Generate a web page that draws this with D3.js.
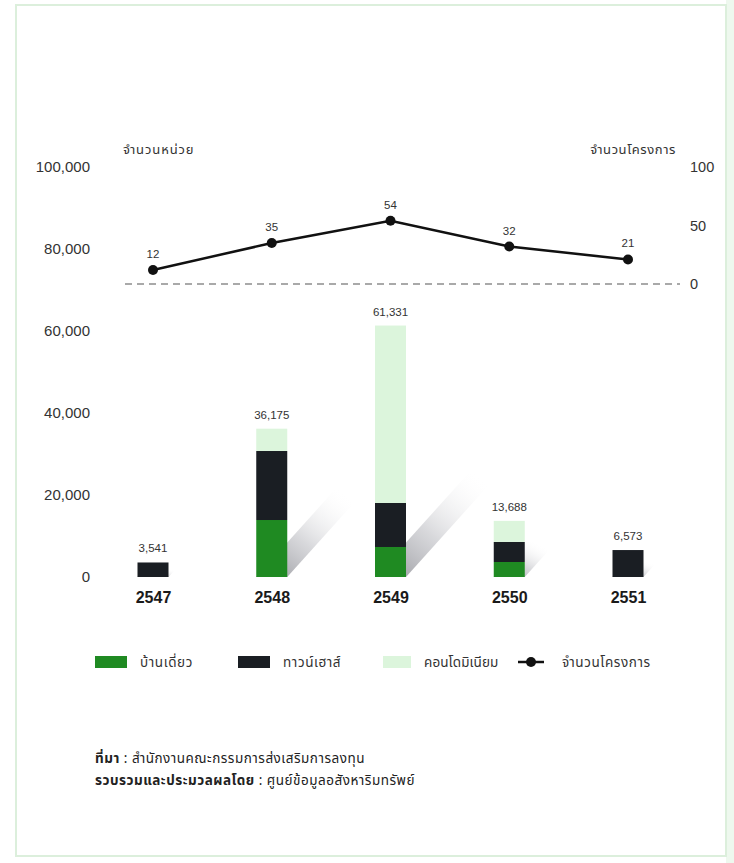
<!DOCTYPE html>
<html><head><meta charset="utf-8">
<script src="https://cdn.jsdelivr.net/npm/d3@7"></script>
<style>
body{margin:0;background:#fff;}
svg text{font-family:"Liberation Sans", Arial, "Noto Sans Thai", sans-serif;}
.thai{font-family:"Noto Sans Thai","Noto Sans Thai UI","Noto Sans","DejaVu Sans",sans-serif;}
</style></head>
<body>
<svg id="c" width="734" height="863"></svg>
<script>
const years = ["2547","2548","2549","2550","2551"];
const detached = [0, 13900, 7320, 3660, 0];
const townhouse = [3541, 16830, 10730, 4880, 6573];
const condo = [0, 5445, 43281, 5148, 0];
const totals = [3541, 36175, 61331, 13688, 6573];
const projects = [12, 35, 54, 32, 21];
const leftTicks = [0, 20000, 40000, 60000, 80000, 100000];
const rightTicks = [0, 50, 100];
const seriesNames = ["บ้านเดี่ยว", "ทาวน์เฮาส์", "คอนโดมิเนียม"];
const lineName = "จำนวนโครงการ";
const leftTitle = "จำนวนหน่วย";
const rightTitle = "จำนวนโครงการ";
const source1Bold = "ที่มา";
const source1 = " : สำนักงานคณะกรรมการส่งเสริมการลงทุน";
const source2Bold = "รวบรวมและประมวลผลโดย";
const source2 = " : ศูนย์ข้อมูลอสังหาริมทรัพย์";

const colors = ["#1f8a22", "#1a1e23", "#dcf5dc"];

const svg = d3.select("#c");
// frame
svg.append("rect").attr("x",726).attr("y",0).attr("width",8).attr("height",863).attr("fill","#eef8ee");
svg.append("rect").attr("x",16).attr("y",5).attr("width",710).attr("height",851)
  .attr("fill","none").attr("stroke","#dcefdc").attr("stroke-width",2);

const x = d3.scalePoint().domain(years).range([153, 628]);
const y = d3.scaleLinear().domain([0, 100000]).range([577, 167]);
const yR = d3.scaleLinear().domain([0, 100]).range([284, 167]);
const bw = 31;

const defs = svg.append("defs");
const g = defs.append("linearGradient").attr("id","sh").attr("x1",0).attr("y1",1).attr("x2",1).attr("y2",0);
g.append("stop").attr("offset","0%").attr("stop-color","#74757c").attr("stop-opacity",0.8);
g.append("stop").attr("offset","40%").attr("stop-color","#a8a9b0").attr("stop-opacity",0.45);
g.append("stop").attr("offset","85%").attr("stop-color","#ffffff").attr("stop-opacity",0);

// shadows
years.forEach((yr,i)=>{
  const x0 = x(yr)-bw/2, x1 = x(yr)+bw/2, y0 = y(0);
  const h = y(0)-y(totals[i]);
  const dy = Math.min(h*0.62, 112), dx = dy*0.9;
  svg.append("path")
    .attr("d", `M${x0},${y0}L${x1},${y0}L${x1+dx},${y0-dy}L${x0+dx},${y0-dy}Z`)
    .attr("fill","url(#sh)");
});

// stacked bars
const rows = years.map((yr,i)=>({year:yr, d:detached[i], t:townhouse[i], c:condo[i]}));
const stack = d3.stack().keys(["d","t","c"])(rows);
svg.append("g").selectAll("g").data(stack).join("g")
  .attr("fill",(s,i)=>colors[i])
  .selectAll("rect").data(s=>s).join("rect")
  .attr("x",d=>x(d.data.year)-bw/2)
  .attr("width",bw)
  .attr("y",d=>y(d[1]))
  .attr("height",d=>y(d[0])-y(d[1]));

// totals labels
svg.append("g").selectAll("text").data(years).join("text")
  .attr("x",d=>x(d)).attr("y",(d,i)=>y(totals[i])-10)
  .attr("text-anchor","middle").attr("font-size",11.5).attr("fill","#333")
  .text((d,i)=>d3.format(",")(totals[i]));

// left axis
const la = svg.append("g").attr("transform","translate(90,0)")
  .call(d3.axisLeft(y).tickValues(leftTicks).tickSize(0).tickPadding(0).tickFormat(d3.format(",")));
la.select(".domain").remove();
la.selectAll("text").attr("font-size",15).attr("fill","#333").style("font-family","Liberation Sans, Arial, sans-serif");

// right axis
const ra = svg.append("g").attr("transform","translate(690,0)")
  .call(d3.axisRight(yR).tickValues(rightTicks).tickSize(0).tickPadding(0));
ra.select(".domain").remove();
ra.selectAll("text").attr("font-size",14.5).attr("fill","#333").style("font-family","Liberation Sans, Arial, sans-serif");

// x axis
const xa = svg.append("g").attr("transform","translate(0,592)")
  .call(d3.axisBottom(x).tickSize(0).tickPadding(0));
xa.select(".domain").remove();
xa.selectAll("text").attr("font-size",16).attr("font-weight","bold").attr("fill","#1a1a1a").style("font-family","Liberation Sans, Arial, sans-serif");

// dashed zero line for right axis
svg.append("line").attr("x1",125).attr("x2",680).attr("y1",yR(0)).attr("y2",yR(0))
  .attr("stroke","#555").attr("stroke-width",1.2).attr("stroke-dasharray","7,5");

// line
svg.append("path").datum(projects)
  .attr("d", d3.line().x((d,i)=>x(years[i])).y(d=>yR(d)))
  .attr("fill","none").attr("stroke","#111").attr("stroke-width",2.5);
svg.append("g").selectAll("circle").data(projects).join("circle")
  .attr("cx",(d,i)=>x(years[i])).attr("cy",d=>yR(d)).attr("r",5).attr("fill","#111");
svg.append("g").selectAll("text").data(projects).join("text")
  .attr("x",(d,i)=>x(years[i])).attr("y",d=>yR(d)-12)
  .attr("text-anchor","middle").attr("font-size",11.5).attr("fill","#333").text(d=>d);

// axis titles
svg.append("text").attr("class","thai").attr("x",123).attr("y",154).attr("font-size",13)
  .attr("letter-spacing",0.9).attr("fill","#333").text(leftTitle);
svg.append("text").attr("class","thai").attr("x",676).attr("y",154).attr("text-anchor","end").attr("font-size",13)
  .attr("letter-spacing",0.6).attr("fill","#333").text(rightTitle);

// legend
const ly = 662;
const leg = svg.append("g");
const swX = [95, 238, 383], txX = [140, 283, 424];
seriesNames.forEach((n,i)=>{
  leg.append("rect").attr("x",swX[i]).attr("y",ly-6).attr("width",i==2?28:32).attr("height",12).attr("fill",colors[i]);
  leg.append("text").attr("class","thai").attr("x",txX[i]).attr("y",ly+5).attr("font-size",13.5)
    .attr("letter-spacing",i==2?0.1:0.6).attr("fill","#333").text(n);
});
leg.append("line").attr("x1",518).attr("x2",544).attr("y1",ly).attr("y2",ly).attr("stroke","#111").attr("stroke-width",2.5);
leg.append("circle").attr("cx",531).attr("cy",ly).attr("r",5).attr("fill","#111");
leg.append("text").attr("class","thai").attr("x",562).attr("y",ly+5).attr("font-size",13.5)
  .attr("letter-spacing",0.6).attr("fill","#333").text(lineName);

// source
const s1 = svg.append("text").attr("class","thai").attr("x",95).attr("y",763).attr("font-size",13.5)
  .attr("letter-spacing",0.5).attr("fill","#222");
s1.append("tspan").attr("font-weight","bold").text(source1Bold);
s1.append("tspan").text(source1);
const s2 = svg.append("text").attr("class","thai").attr("x",95).attr("y",785).attr("font-size",13.5)
  .attr("letter-spacing",0.5).attr("fill","#222");
s2.append("tspan").attr("font-weight","bold").text(source2Bold);
s2.append("tspan").text(source2);
</script>
</body></html>
